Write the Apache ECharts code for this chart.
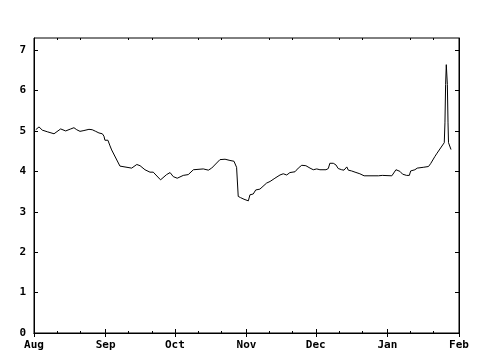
<!DOCTYPE html>
<html>
<head>
<meta charset="utf-8">
<script src="https://cdn.jsdelivr.net/npm/echarts@6/dist/echarts.min.js"></script>
<style>html,body{margin:0;padding:0;background:#fff}#c{width:480px;height:360px}</style>
</head>
<body>
<div id="c"></div>
<script>
// ---- data ----
var dates = [
'2002-08-01 18:00','2002-08-03 04:00','2002-08-04 14:00','2002-08-06 18:00','2002-08-09 16:00',
'2002-08-10 10:00','2002-08-12 13:00','2002-08-13 06:00','2002-08-14 17:00','2002-08-16 22:00',
'2002-08-18 07:00','2002-08-19 12:00','2002-08-20 22:00','2002-08-22 15:00','2002-08-24 19:00',
'2002-08-26 05:00','2002-08-27 17:00','2002-08-29 03:00','2002-08-30 14:00','2002-08-31 07:00',
'2002-08-31 17:00','2002-09-02 00:00','2002-09-02 22:00','2002-09-03 15:00','2002-09-07 05:00',
'2002-09-07 23:00','2002-09-12 07:00','2002-09-14 12:00','2002-09-15 22:00','2002-09-18 01:00',
'2002-09-20 05:00','2002-09-21 15:00','2002-09-24 19:00','2002-09-27 10:00','2002-09-28 22:00',
'2002-09-30 07:00','2002-10-02 00:00','2002-10-04 15:00','2002-10-06 19:00','2002-10-09 00:00',
'2002-10-13 07:00','2002-10-14 00:00','2002-10-15 12:00','2002-10-16 22:00','2002-10-20 12:00',
'2002-10-22 17:00','2002-10-24 20:00','2002-10-26 14:00','2002-10-27 17:00','2002-10-28 10:00',
'2002-10-29 10:00','2002-10-30 22:00','2002-11-01 19:00','2002-11-02 12:00','2002-11-03 22:00',
'2002-11-05 00:00','2002-11-05 17:00','2002-11-06 19:00','2002-11-09 17:00','2002-11-11 05:00',
'2002-11-13 07:00','2002-11-15 12:00','2002-11-16 22:00','2002-11-18 10:00','2002-11-19 19:00',
'2002-11-22 00:00','2002-11-23 10:00','2002-11-24 22:00','2002-11-26 17:00','2002-11-28 12:00',
'2002-11-29 22:00','2002-12-01 10:00','2002-12-02 19:00','2002-12-05 10:00','2002-12-06 10:00',
'2002-12-07 02:00','2002-12-08 14:00','2002-12-09 17:00','2002-12-10 17:00','2002-12-12 05:00',
'2002-12-13 05:00','2002-12-14 10:00','2002-12-15 02:00','2002-12-15 19:00','2002-12-16 12:00',
'2002-12-18 00:00','2002-12-20 02:00','2002-12-21 22:00','2002-12-28 02:00','2002-12-28 19:00',
'2002-12-29 19:00','2003-01-02 22:00','2003-01-03 12:00','2003-01-04 17:00','2003-01-05 10:00',
'2003-01-06 10:00','2003-01-07 14:00','2003-01-09 07:00','2003-01-10 12:00','2003-01-11 02:00',
'2003-01-11 22:00','2003-01-12 22:00','2003-01-13 22:00','2003-01-16 12:00','2003-01-18 19:00',
'2003-01-19 17:00','2003-01-21 14:00','2003-01-22 12:00','2003-01-25 15:00','2003-01-25 22:00',
'2003-01-26 05:00','2003-01-26 12:00','2003-01-26 23:00','2003-01-27 06:00','2003-01-27 11:00',
'2003-01-28 13:00'
];
var values = [
5.03,5.10,5.02,4.98,4.93,
4.94,5.05,5.03,5.00,5.05,
5.08,5.03,4.99,5.01,5.04,
5.03,4.99,4.95,4.93,4.87,
4.77,4.77,4.63,4.53,4.13,
4.11,4.08,4.17,4.14,4.04,
3.98,3.98,3.79,3.92,3.97,
3.87,3.83,3.90,3.92,4.04,
4.06,4.08,4.03,4.08,4.29,
4.30,4.27,4.25,4.10,3.38,
3.35,3.31,3.27,3.42,3.44,
3.54,3.50,3.56,3.71,3.75,
3.83,3.91,3.94,3.91,3.97,
3.99,4.08,4.15,4.14,4.08,
4.04,4.06,4.04,4.04,4.07,
4.20,4.20,4.16,4.07,4.04,
4.03,4.11,4.03,4.07,4.01,
3.98,3.94,3.89,3.89,3.93,
3.90,3.89,3.89,4.04,4.06,
4.00,3.93,3.90,3.90,4.01,
4.00,4.04,4.08,4.10,4.12,
4.19,4.37,4.45,4.71,5.20,
6.15,6.64,6.15,5.20,4.71,
4.54
];
var monthTickDates = ['2002-08-01','2002-09-01','2002-10-01','2002-11-01','2002-12-01','2003-01-01','2003-02-01'];
var monthTickLabels = ['Aug','Sep','Oct','Nov','Dec','Jan','Feb'];
var minorTickDates = ['2002-08-11','2002-08-21','2002-09-11','2002-09-21','2002-10-11','2002-10-21',
  '2002-11-11','2002-11-21','2002-12-11','2002-12-21','2003-01-11','2003-01-21'];
var yTicks = [0,1,2,3,4,5,6,7];

function toTime(s){
  var p = s.split(/[- :]/).map(Number);
  return new Date(p[0], p[1]-1, p[2], p[3]||0, p[4]||0).getTime();
}
var monthTimes = monthTickDates.map(toTime);
var minorTimes = minorTickDates.map(toTime);
var xMin = monthTimes[0], xMax = monthTimes[monthTimes.length-1];
var seriesData = dates.map(function(d,i){ return [toTime(d), values[i]]; });

var font = {fontFamily:'DejaVu Sans Mono', fontWeight:'bold', fontSize:11, color:'#000'};
var gridRect = {left:34, right:21, top:38, bottom:27};

function xAx(grid, pos, ticks, len, labels){
  return {
    type:'value', gridIndex:grid, position:pos, min:xMin, max:xMax, scale:true,
    axisLine:{show:grid===0, lineStyle:{color:'#000', width:1}},
    axisTick:{show:true, inside:true, length:len, customValues:ticks, lineStyle:{color:'#000', width:1}},
    axisLabel: labels ? Object.assign({show:true, margin:7, customValues:monthTimes,
      formatter:function(v){
        var best=0, bd=Infinity;
        for (var i=0;i<monthTimes.length;i++){var dd=Math.abs(monthTimes[i]-v); if(dd<bd){bd=dd;best=i;}}
        return monthTickLabels[best];
      }}, font) : {show:false},
    splitLine:{show:false}
  };
}

var chart = echarts.init(document.getElementById('c'), null, {renderer:'canvas'});
chart.setOption({
  animation:false,
  backgroundColor:'#fff',
  grid:[
    Object.assign({show:true, borderColor:'#000', borderWidth:1, backgroundColor:'transparent'}, gridRect),
    Object.assign({show:false}, gridRect)
  ],
  xAxis:[
    xAx(0,'bottom',monthTimes,4,true),
    xAx(0,'top',monthTimes,4,false),
    xAx(1,'bottom',minorTimes,2,false),
    xAx(1,'top',minorTimes,2,false)
  ],
  yAxis:[
    {type:'value', gridIndex:0, position:'left', min:0, max:7.3,
     axisLine:{show:true, lineStyle:{color:'#000'}},
     axisTick:{show:true, inside:true, length:4, customValues:yTicks, lineStyle:{color:'#000'}},
     axisLabel:Object.assign({show:true, margin:8, customValues:yTicks}, font),
     splitLine:{show:false}},
    {type:'value', gridIndex:0, position:'right', min:0, max:7.3,
     axisLine:{show:true, lineStyle:{color:'#000'}},
     axisTick:{show:true, inside:true, length:4, customValues:yTicks, lineStyle:{color:'#000'}},
     axisLabel:{show:false}, splitLine:{show:false}},
    {type:'value', gridIndex:1, show:false, min:0, max:7.3}
  ],
  series:[{
    type:'line', xAxisIndex:0, yAxisIndex:0, data:seriesData,
    showSymbol:false, symbol:'none',
    lineStyle:{color:'#000', width:1}, itemStyle:{color:'#000'}
  }]
});
</script>
</body>
</html>
